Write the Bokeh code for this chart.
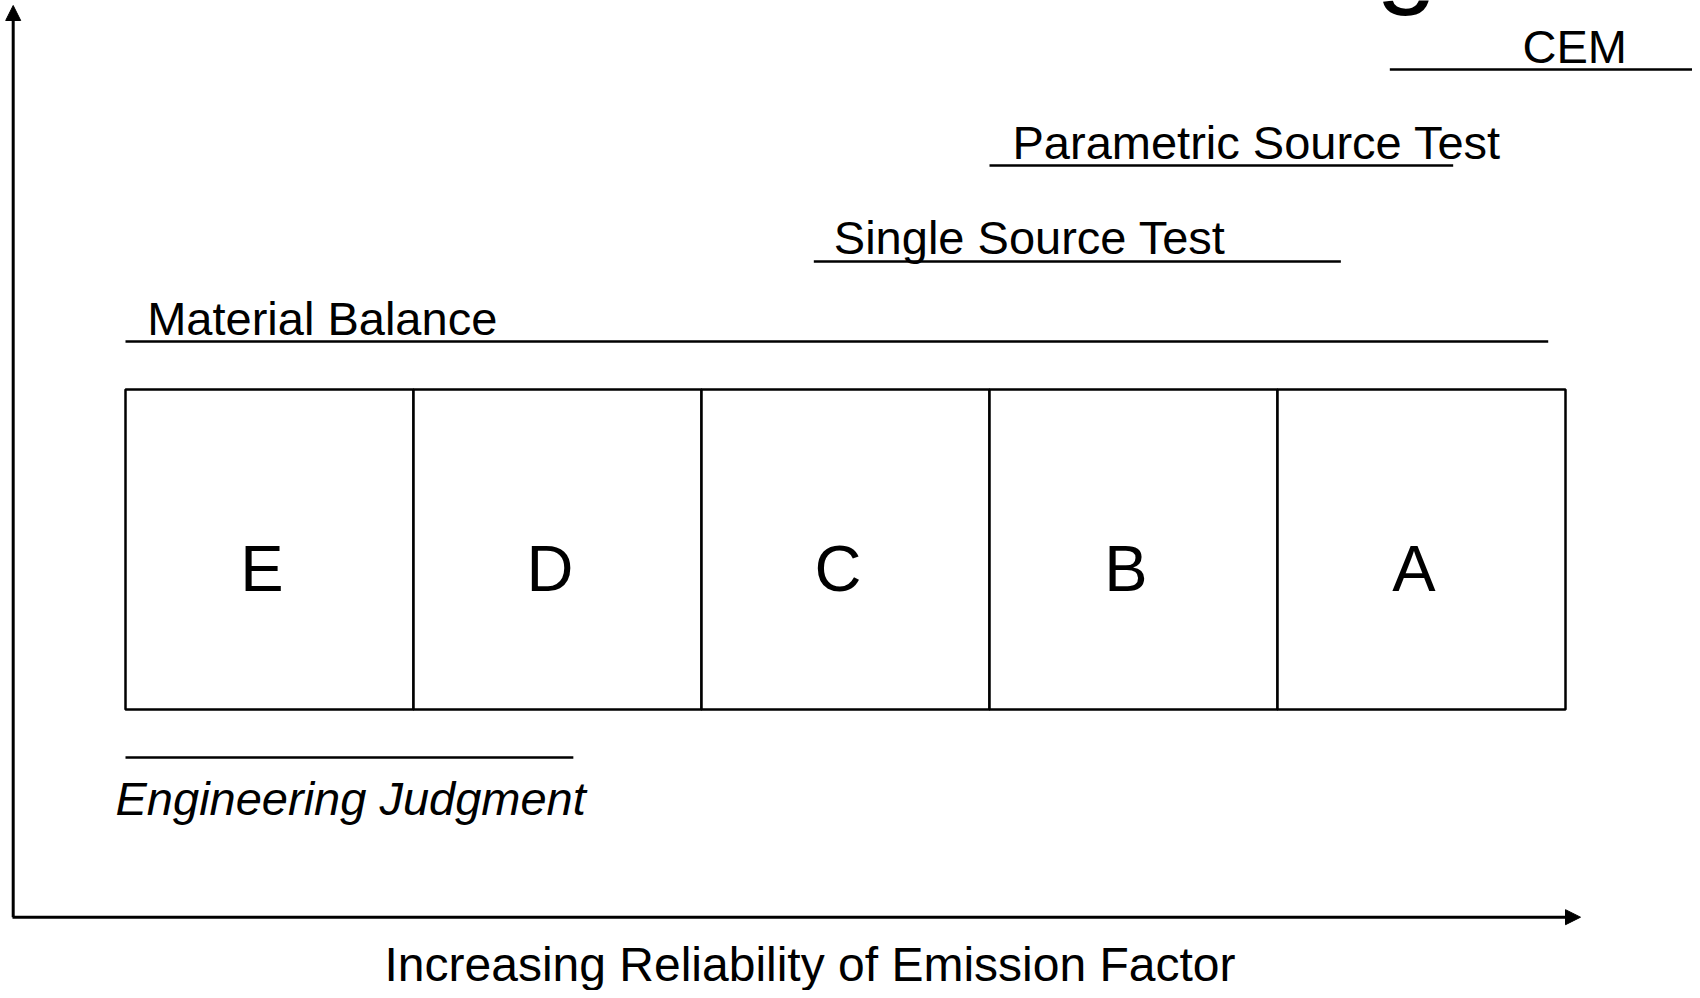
from bokeh.plotting import figure
from bokeh.models import Range1d, Arrow, NormalHead, Label, ColumnDataSource
from bokeh.core.properties import value
from bokeh.embed import file_html
from bokeh.resources import INLINE

# ---- data ----
ratings = ["E", "D", "C", "B", "A"]                      # low -> high reliability
methods = ["CEM", "Parametric Source Test", "Single Source Test",
           "Material Balance", "Engineering Judgment"]
method_start = [4.39, 3.0, 2.39, 0.0, 0.0]               # in rating-box units
method_end = [5.44, 4.61, 4.22, 4.94, 1.555]
method_level = [2.0, 1.7, 1.4, 1.15, -0.15]
x_axis_label = "Increasing Reliability of Emission Factor"

# ---- layout / style ----
W, H = 1692, 990
PX_X, PX_Y = 288.0, 320.0            # pixels per data unit
X0, X1 = -125.0 / PX_X, (W - 125.0) / PX_X
Y0, Y1 = (709.0 - H) / PX_Y, 709.0 / PX_Y
FONT = "Liberation Sans"
BASE_FIX = 0.33                      # em correction for alphabetic baseline


def fy(fs):
    return BASE_FIX * fs / PX_Y


p = figure(width=W, height=H, output_backend="svg", toolbar_location=None,
           x_range=Range1d(X0, X1), y_range=Range1d(Y0, Y1),
           min_border=0, outline_line_color=None, tools="")
p.xaxis.visible = False
p.yaxis.visible = False
p.grid.visible = False
p.background_fill_color = "white"
p.border_fill_color = "white"

# rating boxes
n = len(ratings)
LET_FS = 65
box_src = ColumnDataSource(dict(left=list(range(n)), right=[i + 1 for i in range(n)],
                                bottom=[0] * n, top=[1] * n, label=ratings,
                                cx=[i + 0.5 - 7.5 / PX_X for i in range(n)],
                                cy=[0.5 - 40.0 / PX_Y + fy(LET_FS)] * n))
p.quad(left="left", right="right", bottom="bottom", top="top", source=box_src,
       fill_color="white", line_color="black", line_width=2.5)
p.text(x="cx", y="cy", text="label", source=box_src, text_font=value(FONT),
       text_font_size=f"{LET_FS}px", text_align="center", text_baseline="alphabetic",
       text_color="black")

# method lines
p.segment(x0=method_start, y0=method_level, x1=method_end, y1=method_level,
          line_color="black", line_width=2.5)

FS = 47
text_dx = [132.7, 23.0, 20.0, 21.7, -10.0]   # px
text_dy = [7.0, 7.7, 8.3, 7.7, -57.0]        # px, positive = up
styles = ["normal", "normal", "normal", "normal", "italic"]
for name, xs, lv, dx, dy, st in zip(methods, method_start, method_level, text_dx, text_dy, styles):
    p.add_layout(Label(x=xs + dx / PX_X, y=lv + dy / PX_Y + fy(FS), text=name,
                       text_font=FONT, text_font_size=f"{FS}px", text_font_style=st,
                       text_baseline="alphabetic", text_align="left", text_color="black"))

# axes as arrows
ax_x = (12.7 - 125.0) / PX_X
ax_y = (709.0 - 916.7) / PX_Y
head = dict(size=15, fill_color="black", line_color="black", line_width=1)
p.add_layout(Arrow(x_start=ax_x - 0.7 / PX_X, y_start=ax_y, x_end=(1580.0 - 125.0) / PX_X,
                   y_end=ax_y, line_width=3, line_color="black", end=NormalHead(**head)))
p.add_layout(Arrow(x_start=ax_x, y_start=ax_y, x_end=ax_x, y_end=(709.0 - 5.0) / PX_Y,
                   line_width=3, line_color="black", end=NormalHead(**head)))

p.add_layout(Label(x=(809.5 - 125.0) / PX_X, y=(709.0 - 979.5) / PX_Y + fy(48),
                   text=x_axis_label, text_font=FONT, text_font_size="48px",
                   text_align="center", text_baseline="alphabetic", text_color="black"))

# descender of a cut-off title glyph at the top edge
p.add_layout(Label(x=(1406.0 - 125.0) / PX_X, y=(709.0 + 10.0) / PX_Y + fy(110), text="g",
                   text_font=FONT, text_font_size="110px", text_align="center",
                   text_baseline="alphabetic", text_color="black"))

open("out.html", "w").write(file_html(p, INLINE))
